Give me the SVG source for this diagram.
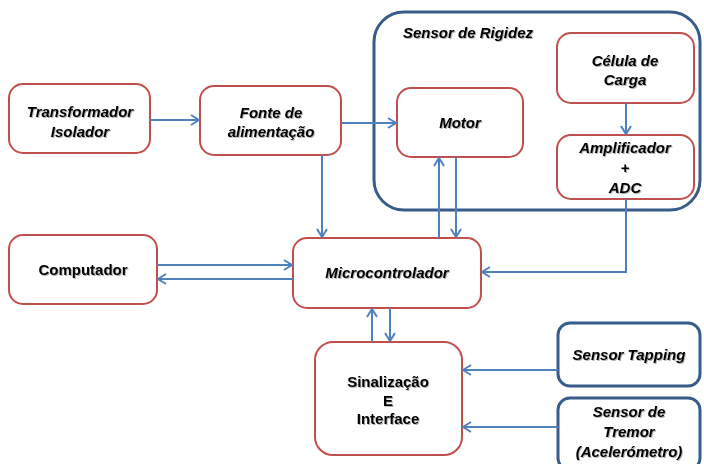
<svg xmlns="http://www.w3.org/2000/svg" width="704" height="464" viewBox="0 0 704 464">
<defs>
<marker id="ah" markerWidth="10" markerHeight="12" refX="9" refY="6" orient="auto" markerUnits="userSpaceOnUse">
<path d="M1,1 L9,6 L1,11" fill="none" stroke="#4f81bd" stroke-width="2"/>
</marker>
<filter id="sh" x="-10%" y="-30%" width="120%" height="160%">
<feDropShadow dx="1" dy="1" stdDeviation="0.6" flood-color="#000" flood-opacity="0.3"/>
</filter>
</defs>
<style>
.rb{fill:#fff;stroke:#c0504d;stroke-width:2}
.bb{fill:#fff;stroke:#385d8a;stroke-width:3}
.grp{fill:#fff;stroke:#385d8a;stroke-width:3}
text{font-family:"Liberation Sans",Arial,sans-serif;font-size:15px;font-weight:bold;fill:#000;text-anchor:middle;filter:url(#sh)}
.it{font-style:italic}
.c line,.c path{stroke:#4f81bd;stroke-width:2;fill:none}
</style>
<g id="sensor-rigidez">
<rect class="grp" x="374" y="12" width="326" height="198" rx="30"/>
<text class="it" x="403" y="38" style="text-anchor:start">Sensor de Rigidez</text>
</g>
<g id="transformador">
<rect class="rb" x="9" y="84" width="141" height="69" rx="14"/>
<text class="it" x="80" y="117">Transformador</text>
<text class="it" x="80" y="137">Isolador</text>
</g>
<g id="fonte">
<rect class="rb" x="200" y="86" width="141" height="69" rx="14"/>
<text class="it" x="271" y="118">Fonte de</text>
<text class="it" x="271" y="137">alimentação</text>
</g>
<g id="motor">
<rect class="rb" x="397" y="88" width="126" height="69" rx="14"/>
<text class="it" x="460" y="128">Motor</text>
</g>
<g id="celula">
<rect class="rb" x="557" y="33" width="137" height="70" rx="14"/>
<text class="it" x="625" y="66">Célula de</text>
<text class="it" x="625" y="85">Carga</text>
</g>
<g id="amplificador">
<rect class="rb" x="557" y="135" width="137" height="64" rx="14"/>
<text class="it" x="625" y="153">Amplificador</text>
<text class="it" x="625" y="173">+</text>
<text class="it" x="625" y="193">ADC</text>
</g>
<g id="computador">
<rect class="rb" x="9" y="235" width="148" height="69" rx="14"/>
<text x="83" y="275">Computador</text>
</g>
<g id="microcontrolador">
<rect class="rb" x="293" y="238" width="188" height="70" rx="14"/>
<text class="it" x="387" y="278">Microcontrolador</text>
</g>
<g id="sinalizacao">
<rect class="rb" x="315" y="342" width="147" height="113" rx="18"/>
<text x="388" y="387">Sinalização</text>
<text x="388" y="406">E</text>
<text x="388" y="424">Interface</text>
</g>
<g id="tapping">
<rect class="bb" x="558" y="323" width="142" height="63" rx="12"/>
<text class="it" x="629" y="360">Sensor Tapping</text>
</g>
<g id="tremor">
<rect class="bb" x="558" y="398" width="142" height="72" rx="12"/>
<text class="it" x="629" y="417">Sensor de</text>
<text class="it" x="629" y="437">Tremor</text>
<text class="it" x="629" y="457">(Acelerómetro)</text>
</g>
<g id="connectors" class="c">
<line x1="150" y1="120" x2="199" y2="120" marker-end="url(#ah)"/>
<line x1="341" y1="123" x2="396" y2="123" marker-end="url(#ah)"/>
<line x1="322" y1="155" x2="322" y2="237" marker-end="url(#ah)"/>
<line x1="626" y1="103" x2="626" y2="134" marker-end="url(#ah)"/>
<line x1="439" y1="238" x2="439" y2="158" marker-end="url(#ah)"/>
<line x1="456" y1="157" x2="456" y2="237" marker-end="url(#ah)"/>
<path d="M626,199 L626,272 L482,272" marker-end="url(#ah)"/>
<line x1="157" y1="265" x2="292" y2="265" marker-end="url(#ah)"/>
<line x1="293" y1="279" x2="158" y2="279" marker-end="url(#ah)"/>
<line x1="372" y1="342" x2="372" y2="309" marker-end="url(#ah)"/>
<line x1="390" y1="308" x2="390" y2="341" marker-end="url(#ah)"/>
<line x1="558" y1="370" x2="463" y2="370" marker-end="url(#ah)"/>
<line x1="558" y1="427" x2="463" y2="427" marker-end="url(#ah)"/>
</g>
</svg>
